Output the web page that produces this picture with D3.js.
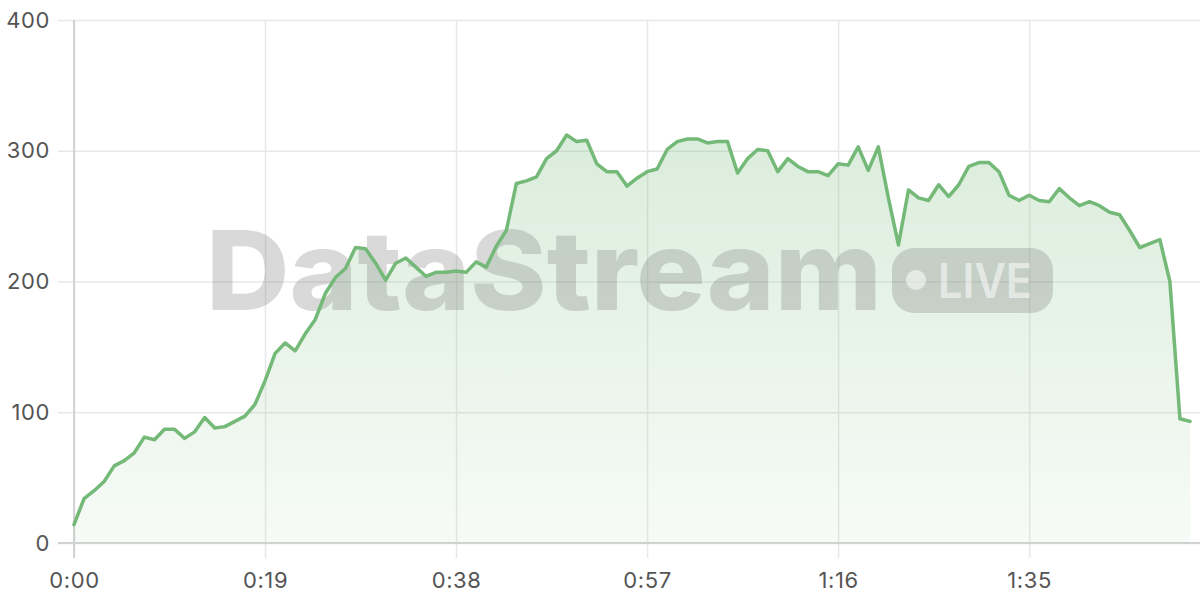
<!DOCTYPE html>
<html>
<head>
<meta charset="utf-8">
<script src="https://cdn.jsdelivr.net/npm/d3@7"></script>
<style>
  html, body { margin: 0; padding: 0; background: #ffffff; }
  svg { display: block; }
</style>
</head>
<body>
<div id="chart"></div>
<script>
// Seconds elapsed (one reading per second)
const seconds = d3.range(0, 112);
// Series values
const values = [
  14, 34, 40, 47, 59, 63, 69, 81, 79, 87,
  87, 80, 85, 96, 88, 89, 93, 97, 106, 124,
  145, 153, 147, 160, 171, 191, 203, 210, 226, 225,
  214, 201, 214, 218, 211, 204, 207, 207, 208, 207,
  215, 211, 227, 239, 275, 277, 280, 294, 300, 312,
  307, 308, 290, 284, 284, 273, 279, 284, 286, 301,
  307, 309, 309, 306, 307, 307, 283, 294, 301, 300,
  284, 294, 288, 284, 284, 281, 290, 289, 303, 285,
  303, 264, 228, 270, 264, 262, 274, 265, 274, 288,
  291, 291, 284, 266, 262, 266, 262, 261, 271, 264,
  258, 261, 258, 253, 251, 239, 226, 229, 232, 200,
  95, 93
];
const xTickValues = [0, 19, 38, 57, 76, 95];
const xTickLabels = ["0:00", "0:19", "0:38", "0:57", "1:16", "1:35"];
const yTickValues = [0, 100, 200, 300, 400];
const watermarkTitle = "DataStream";
const watermarkBadge = "LIVE";

const W = 1200, H = 600;
const margin = { top: 20, right: 10, bottom: 57, left: 74 };
const data = seconds.map((s, i) => ({ t: s, v: values[i] }));

const svg = d3.select("#chart").append("svg").attr("width", W).attr("height", H);

const x = d3.scaleLinear().domain([0, 111]).range([margin.left, W - margin.right]);
const y = d3.scaleLinear().domain([0, 400]).range([H - margin.bottom, margin.top]);

const font = "Inter, 'Noto Sans', 'DejaVu Sans', sans-serif";
const green = "#74b978";

// gradient
const defs = svg.append("defs");
const grad = defs.append("linearGradient").attr("id", "areaGrad")
  .attr("gradientUnits", "userSpaceOnUse")
  .attr("x1", 0).attr("x2", 0).attr("y1", y(400)).attr("y2", y(0));
grad.append("stop").attr("offset", "0%").attr("stop-color", green).attr("stop-opacity", 0.32);
grad.append("stop").attr("offset", "100%").attr("stop-color", green).attr("stop-opacity", 0.06);

// horizontal grid
const gy = svg.append("g")
  .attr("transform", `translate(${margin.left},0)`)
  .call(d3.axisLeft(y).tickValues(yTickValues).tickSize(-(W - margin.left)).tickPadding(24).tickFormat(d3.format("d")));
gy.select(".domain").remove();
gy.selectAll(".tick line").attr("stroke", "#e8e8e8").attr("stroke-width", 1.5).attr("x1", -16);
gy.selectAll(".tick text").attr("font-family", font).attr("font-size", 22).attr("letter-spacing", 0.6).attr("fill", "#555");

// vertical grid
const gx = svg.append("g")
  .attr("transform", `translate(0,${H - margin.bottom})`)
  .call(d3.axisBottom(x).tickValues(xTickValues).tickSize(-(H - margin.bottom - margin.top)).tickPadding(29)
    .tickFormat((d, i) => xTickLabels[i]));
gx.select(".domain").remove();
gx.selectAll(".tick line").attr("stroke", "#e8e8e8").attr("stroke-width", 1.5).attr("y1", 15);
gx.selectAll(".tick text").attr("font-family", font).attr("font-size", 22).attr("letter-spacing", 0.6).attr("fill", "#555");

// axis lines
svg.append("line").attr("x1", x(0)).attr("x2", x(0)).attr("y1", y(400)).attr("y2", y(0) + 15)
  .attr("stroke", "#d2d2d2").attr("stroke-width", 2);
svg.append("line").attr("x1", margin.left - 16).attr("x2", W).attr("y1", y(0)).attr("y2", y(0))
  .attr("stroke", "#d2d2d2").attr("stroke-width", 2);

// area
const area = d3.area().x(d => x(d.t)).y0(y(0)).y1(d => y(d.v));
svg.append("path").datum(data).attr("d", area).attr("fill", "url(#areaGrad)");

// watermark
const wm = svg.append("g").attr("pointer-events", "none");
const wmColor = "rgba(120,120,120,0.28)";
wm.append("text").attr("x", 206).attr("y", 310)
  .attr("font-family", font).attr("font-weight", 800).attr("font-size", 110)
  .attr("textLength", 676).attr("lengthAdjust", "spacingAndGlyphs")
  .attr("fill", wmColor).text(watermarkTitle);
wm.append("rect").attr("x", 892).attr("y", 248).attr("width", 161).attr("height", 65).attr("rx", 22)
  .attr("fill", wmColor);
wm.append("circle").attr("cx", 916).attr("cy", 280).attr("r", 10).attr("fill", "rgba(255,255,255,0.55)");
wm.append("text").attr("x", 938).attr("y", 298)
  .attr("font-family", font).attr("font-weight", 600).attr("font-size", 48)
  .attr("textLength", 94).attr("lengthAdjust", "spacingAndGlyphs")
  .attr("fill", "rgba(255,255,255,0.55)").text(watermarkBadge);

// line
const line = d3.line().x(d => x(d.t)).y(d => y(d.v));
svg.append("path").datum(data).attr("d", line)
  .attr("fill", "none").attr("stroke", green).attr("stroke-width", 3.5)
  .attr("stroke-linejoin", "round").attr("stroke-linecap", "round");
</script>
</body>
</html>
